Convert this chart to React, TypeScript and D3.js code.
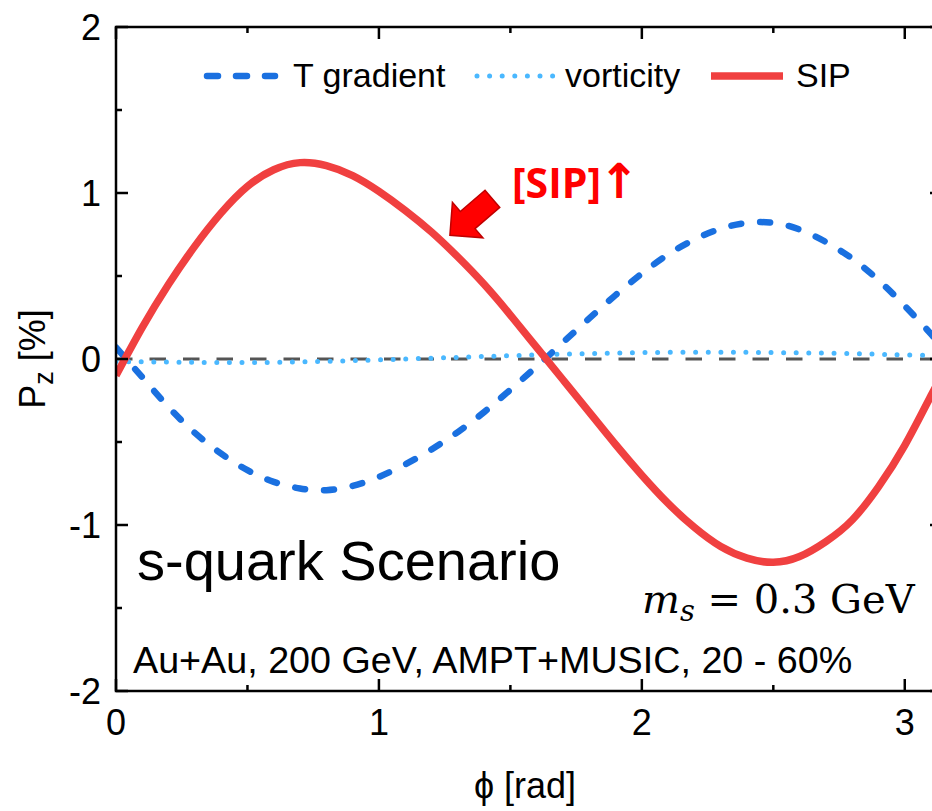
import React from "react";
import * as d3 from "d3";

// Polarization P_z [%] vs azimuthal angle phi [rad], three contributions
const PHI_SIP = [0, 0.1, 0.2, 0.3, 0.4, 0.5, 0.6, 0.7, 0.8, 0.9, 1.0, 1.1, 1.2, 1.3, 1.4, 1.5, 1.6, 1.7, 1.8, 1.9, 2.0, 2.1, 2.2, 2.3, 2.4, 2.5, 2.6, 2.7, 2.8, 2.9, 3.0, 3.1, Math.PI];
const VAL_SIP = [-0.1, 0.19, 0.45, 0.68, 0.88, 1.04, 1.14, 1.183, 1.165, 1.105, 1.01, 0.895, 0.765, 0.615, 0.45, 0.265, 0.07, -0.125, -0.32, -0.515, -0.7, -0.87, -1.015, -1.13, -1.2, -1.225, -1.19, -1.1, -0.97, -0.77, -0.52, -0.22, -0.1];

const PHI_TGRAD = [0, 0.1, 0.2, 0.3, 0.4, 0.5, 0.6, 0.7, 0.8, 0.9, 1.0, 1.1, 1.2, 1.3, 1.4, 1.5, 1.6, 1.7, 1.8, 1.9, 2.0, 2.1, 2.2, 2.3, 2.4, 2.5, 2.6, 2.7, 2.8, 2.9, 3.0, 3.1, Math.PI];
const VAL_TGRAD = [0.07, -0.11, -0.29, -0.445, -0.57, -0.67, -0.74, -0.78, -0.79, -0.765, -0.71, -0.635, -0.545, -0.44, -0.32, -0.185, -0.045, 0.1, 0.245, 0.385, 0.515, 0.63, 0.72, 0.785, 0.82, 0.82, 0.78, 0.705, 0.605, 0.475, 0.32, 0.15, 0.07];

const PHI_VORT = [0, 0.3, 0.6, 0.9, 1.2, 1.5, 1.8, 2.1, 2.4, 2.7, 3.0, Math.PI];
const VAL_VORT = [-0.015, -0.02, -0.02, -0.01, 0.005, 0.02, 0.033, 0.04, 0.04, 0.035, 0.025, 0.02];

const X_TICKS = [0, 1, 2, 3];
const X_MINOR = [0.5, 1.5, 2.5];
const Y_TICKS = [-2, -1, 0, 1, 2];
const Y_MINOR = [-1.5, -0.5, 0.5, 1.5];

const LEGEND = ["T gradient", "vorticity", "SIP"];

const C_SIP = "#f04040";
const C_TGRAD = "#1a70e0";
const C_VORT = "#4ab8ff";

const SANS = "'Liberation Sans', Arial, sans-serif";

export default function App() {
  const W = 932;
  const H = 811;
  const left = 116, right = 942, top = 27, bottom = 691;

  const x = d3.scaleLinear().domain([0, Math.PI]).range([left, right]);
  const y = d3.scaleLinear().domain([-2, 2]).range([bottom, top]);

  const line = d3
    .line<[number, number]>()
    .x((d) => x(d[0]))
    .y((d) => y(d[1]))
    .curve(d3.curveNatural);

  const zip = (a: number[], b: number[]) => a.map((v, i) => [v, b[i]] as [number, number]);

  const sipPath = line(zip(PHI_SIP, VAL_SIP)) || "";
  const tgPath = line(zip(PHI_TGRAD, VAL_TGRAD)) || "";
  const vortPath = line(zip(PHI_VORT, VAL_VORT)) || "";

  // block arrow pointing at the SIP curve
  const tipX = x(1.27);
  const tipY = y(0.745);
  const ang = 139.35;
  const L = 56;
  const rad = (ang * Math.PI) / 180;
  const tailX = tipX - L * Math.cos(rad);
  const tailY = tipY - L * Math.sin(rad);
  const arrowPts = [
    [0, -11.3],
    [32.6, -11.3],
    [32.6, -23.4],
    [L, 0],
    [32.6, 23.4],
    [32.6, 11.3],
    [0, 11.3],
  ]
    .map((p) => p.join(","))
    .join(" ");

  const legY = 76;

  return (
    <svg
      width={W}
      height={H}
      style={{ position: "absolute", left: 0, top: 0, background: "#fff" }}
      fontFamily={SANS}
    >
      <rect x={0} y={0} width={W} height={H} fill="#fff" />

      <defs>
        <clipPath id="plotClip">
          <rect x={left} y={top} width={right - left} height={bottom - top} />
        </clipPath>
      </defs>

      {/* zero reference */}
      <line
        x1={x(0)}
        x2={x(Math.PI)}
        y1={y(0)}
        y2={y(0)}
        stroke="#555"
        strokeWidth={3}
        strokeDasharray="16.5 17"
      />

      <g clipPath="url(#plotClip)">
        <path d={vortPath} fill="none" stroke={C_VORT} strokeWidth={5} strokeDasharray="0 12.6" strokeLinecap="round" />
        <path d={tgPath} fill="none" stroke={C_TGRAD} strokeWidth={6.5} strokeDasharray="10 19" strokeLinecap="round" />
        <path d={sipPath} fill="none" stroke={C_SIP} strokeWidth={7.5} strokeLinejoin="round" />
      </g>

      {/* frame */}
      <rect x={left} y={top} width={right - left} height={bottom - top} fill="none" stroke="#000" strokeWidth={2.5} />

      {/* x ticks (inward, mirrored on top) */}
      {X_TICKS.map((t) => (
        <g key={"xt" + t}>
          <line x1={x(t)} x2={x(t)} y1={bottom} y2={bottom - 12} stroke="#000" strokeWidth={2.5} />
          <line x1={x(t)} x2={x(t)} y1={top} y2={top + 12} stroke="#000" strokeWidth={2.5} />
          <text x={x(t)} y={735} fontSize={36} textAnchor="middle" fill="#000">
            {t}
          </text>
        </g>
      ))}
      {X_MINOR.map((t) => (
        <g key={"xm" + t}>
          <line x1={x(t)} x2={x(t)} y1={bottom} y2={bottom - 6} stroke="#000" strokeWidth={2.5} />
          <line x1={x(t)} x2={x(t)} y1={top} y2={top + 6} stroke="#000" strokeWidth={2.5} />
        </g>
      ))}

      {/* y ticks (inward, mirrored on right) */}
      {Y_TICKS.map((t) => (
        <g key={"yt" + t}>
          <line x1={left} x2={left + 12} y1={y(t)} y2={y(t)} stroke="#000" strokeWidth={2.5} />
          <line x1={right} x2={right - 12} y1={y(t)} y2={y(t)} stroke="#000" strokeWidth={2.5} />
          <text x={101} y={y(t)} dy="0.36em" fontSize={36} textAnchor="end" fill="#000">
            {t}
          </text>
        </g>
      ))}
      {Y_MINOR.map((t) => (
        <g key={"ym" + t}>
          <line x1={left} x2={left + 6} y1={y(t)} y2={y(t)} stroke="#000" strokeWidth={2.5} />
          <line x1={right} x2={right - 6} y1={y(t)} y2={y(t)} stroke="#000" strokeWidth={2.5} />
        </g>
      ))}

      {/* axis titles */}
      <text transform={`translate(45, ${y(0)}) rotate(-90)`} fontSize={36} textAnchor="middle" fill="#000">
        P
        <tspan fontSize={27} dy={8}>z</tspan>
        <tspan dy={-8}> [%]</tspan>
      </text>
      <text x={525} y={798} fontSize={36} textAnchor="middle" fill="#000">
        ϕ [rad]
      </text>

      {/* legend */}
      <line x1={207} x2={275} y1={legY} y2={legY} stroke={C_TGRAD} strokeWidth={6.5} strokeDasharray="11 18" strokeLinecap="round" />
      <text x={293} y={87} fontSize={34} fill="#000">{LEGEND[0]}</text>
      <line x1={477} x2={555} y1={legY} y2={legY} stroke={C_VORT} strokeWidth={5} strokeDasharray="0 12.6" strokeLinecap="round" />
      <text x={565} y={87} fontSize={34} fill="#000">{LEGEND[1]}</text>
      <line x1={711} x2={783} y1={legY} y2={legY} stroke={C_SIP} strokeWidth={7.5} />
      <text x={796} y={87} fontSize={34} fill="#000">{LEGEND[2]}</text>

      {/* annotations */}
      <polygon
        points={arrowPts}
        transform={`translate(${tailX}, ${tailY}) rotate(${ang})`}
        fill="#ff0000"
        stroke="#c00000"
        strokeWidth={1.5}
        strokeLinejoin="miter"
      />
      <text x={512} y={198} fontSize={41} fontWeight="bold" fill="#ff0000" fontFamily="'Open Sans', 'Noto Sans', sans-serif">
        [SIP]
        <tspan fontFamily="'DejaVu Sans', sans-serif" fontWeight="bold" fontSize={48} dx={-2}>↑</tspan>
      </text>

      <text x={137} y={580} fontSize={56} fill="#000">
        s-quark Scenario
      </text>

      <text x={642} y={613} fontSize={40} fill="#000" fontFamily="'DejaVu Serif', serif">
        <tspan fontStyle="italic">m</tspan>
        <tspan fontStyle="italic" fontSize={29} dy={8}>s</tspan>
        <tspan dy={-8}> = 0.3 GeV</tspan>
      </text>

      <text x={133} y={673} fontSize={37.7} fill="#000">
        Au+Au, 200 GeV, AMPT+MUSIC, 20 - 60%
      </text>
    </svg>
  );
}
